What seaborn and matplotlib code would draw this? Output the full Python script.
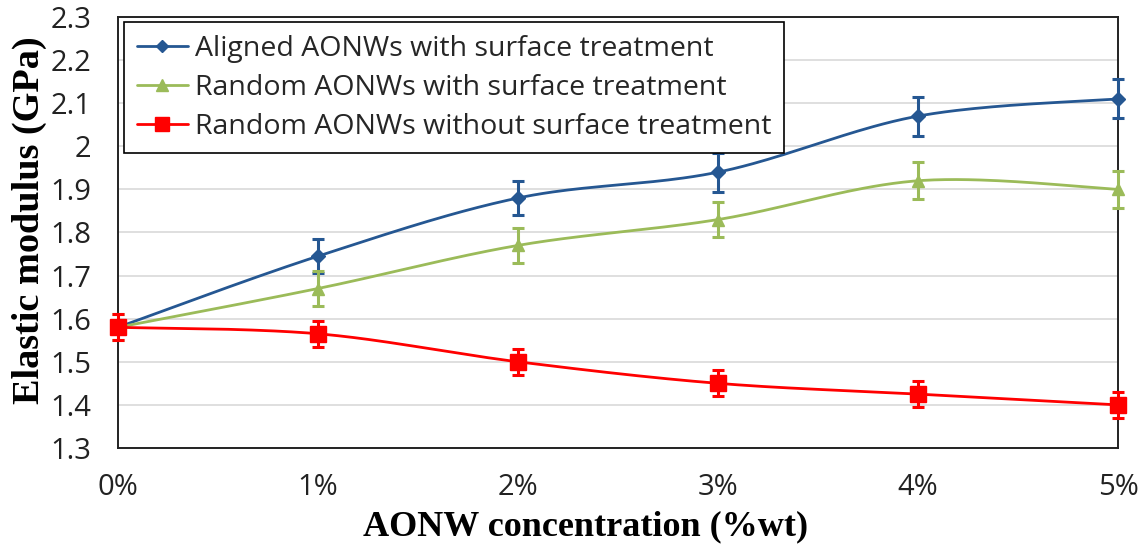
import numpy as np
import pandas as pd
import matplotlib
matplotlib.use("Agg")
import matplotlib.pyplot as plt
from matplotlib.lines import Line2D
import seaborn as sns

# ---- data ----
concentrations = [0, 1, 2, 3, 4, 5]
tick_labels = ["0%", "1%", "2%", "3%", "4%", "5%"]
series_names = [
    "Aligned AONWs with surface treatment",
    "Random AONWs with surface treatment",
    "Random AONWs without surface treatment",
]
aligned_vals = [1.58, 1.745, 1.88, 1.94, 2.07, 2.11]
aligned_err = [0.0, 0.04, 0.04, 0.045, 0.045, 0.045]
random_vals = [1.58, 1.67, 1.77, 1.83, 1.92, 1.90]
random_err = [0.03, 0.04, 0.04, 0.04, 0.043, 0.043]
untreated_vals = [1.58, 1.565, 1.50, 1.45, 1.425, 1.40]
untreated_err = [0.03, 0.03, 0.03, 0.03, 0.03, 0.03]

colors = ["#255792", "#9BBB59", "#FF0000"]
markers = ["D", "^", "s"]
msizes = [7, 9, 11]

sns.set_theme(style="white")
plt.rcParams["font.family"] = ["Open Sans", "DejaVu Sans"]


def smooth(xs, ys, n=40):
    """Excel-like smoothed line (Catmull-Rom Bezier) through the points."""
    P = np.column_stack([xs, ys]).astype(float)
    out = []
    m = len(P)
    for i in range(m - 1):
        p0 = P[max(i - 1, 0)]
        p1 = P[i]
        p2 = P[i + 1]
        p3 = P[min(i + 2, m - 1)]
        c1 = p1 + (p2 - p0) / 6.0
        c2 = p2 - (p3 - p1) / 6.0
        t = np.linspace(0, 1, n, endpoint=(i == m - 2))[:, None]
        b = ((1 - t) ** 3) * p1 + 3 * ((1 - t) ** 2) * t * c1 + 3 * (1 - t) * t ** 2 * c2 + t ** 3 * p2
        out.append(b)
    out = np.vstack(out)
    return out[:, 0], out[:, 1]


frames = []
for name, vals in zip(series_names, [aligned_vals, random_vals, untreated_vals]):
    sx, sy = smooth(concentrations, vals)
    frames.append(pd.DataFrame({"x": sx, "y": sy, "series": name, "order": np.arange(len(sx))}))
curves = pd.concat(frames, ignore_index=True)

fig = plt.figure(figsize=(11.44, 5.44), dpi=100)
ax = fig.add_axes([0.1031, 0.1765, 0.8742, 0.7923])

sns.lineplot(data=curves, x="x", y="y", hue="series", hue_order=series_names,
             palette=colors, sort=False, estimator=None, units="series",
             linewidth=2.0, legend=False, ax=ax, zorder=3)

for vals, errs, c, mk, ms in zip([aligned_vals, random_vals, untreated_vals],
                                 [aligned_err, random_err, untreated_err],
                                 colors, markers, msizes):
    ax.errorbar(concentrations, vals, yerr=errs, fmt=mk, color=c, markersize=ms,
                ecolor=c, elinewidth=2.2, capsize=4, capthick=2.2, zorder=4,
                clip_on=False)

ax.set_xlim(0, 5)
ax.set_ylim(1.3, 2.3)
ax.set_xticks(concentrations)
ax.set_xticklabels(tick_labels)
ax.set_yticks(np.round(np.arange(1.3, 2.31, 0.1), 1))
ax.set_yticklabels(["1.3", "1.4", "1.5", "1.6", "1.7", "1.8", "1.9", "2", "2.1", "2.2", "2.3"])
ax.yaxis.grid(True, color="#D9D9D9", linewidth=1.2)
ax.xaxis.grid(False)
ax.set_axisbelow(True)

ax.tick_params(axis="both", which="major", direction="out", length=7, width=1.3,
               color="#222222", labelsize=21, labelcolor="#222222")
ax.tick_params(axis="y", pad=12)
ax.tick_params(axis="x", pad=11)
for s in ax.spines.values():
    s.set_color("#222222")
    s.set_linewidth(1.4)
    s.set_visible(True)

serif = ["Liberation Serif", "DejaVu Serif"]
ax.set_xlabel("AONW concentration (%wt)", fontsize=26, fontweight="bold", family=serif, color="black")
ax.set_ylabel("Elastic modulus (GPa)", fontsize=27.5, fontweight="bold", family=serif, color="black")
ax.xaxis.set_label_coords(0.468, -0.145)
ax.yaxis.set_label_coords(-0.071, 0.529)

handles = [Line2D([0], [0], color=c, marker=mk, markersize=ms - 1, linewidth=2.0)
           for c, mk, ms in zip(colors, markers, msizes)]
leg = ax.legend(handles, series_names, loc="upper left", bbox_to_anchor=(0.006, 0.988),
                fontsize=20.5, frameon=True, fancybox=False, edgecolor="black",
                framealpha=1, handlelength=1.8, handletextpad=0.25, borderpad=0.45,
                labelspacing=0.38, borderaxespad=0.0)
leg.get_frame().set_linewidth(1.2)

fig.savefig("out.png", dpi=100)
